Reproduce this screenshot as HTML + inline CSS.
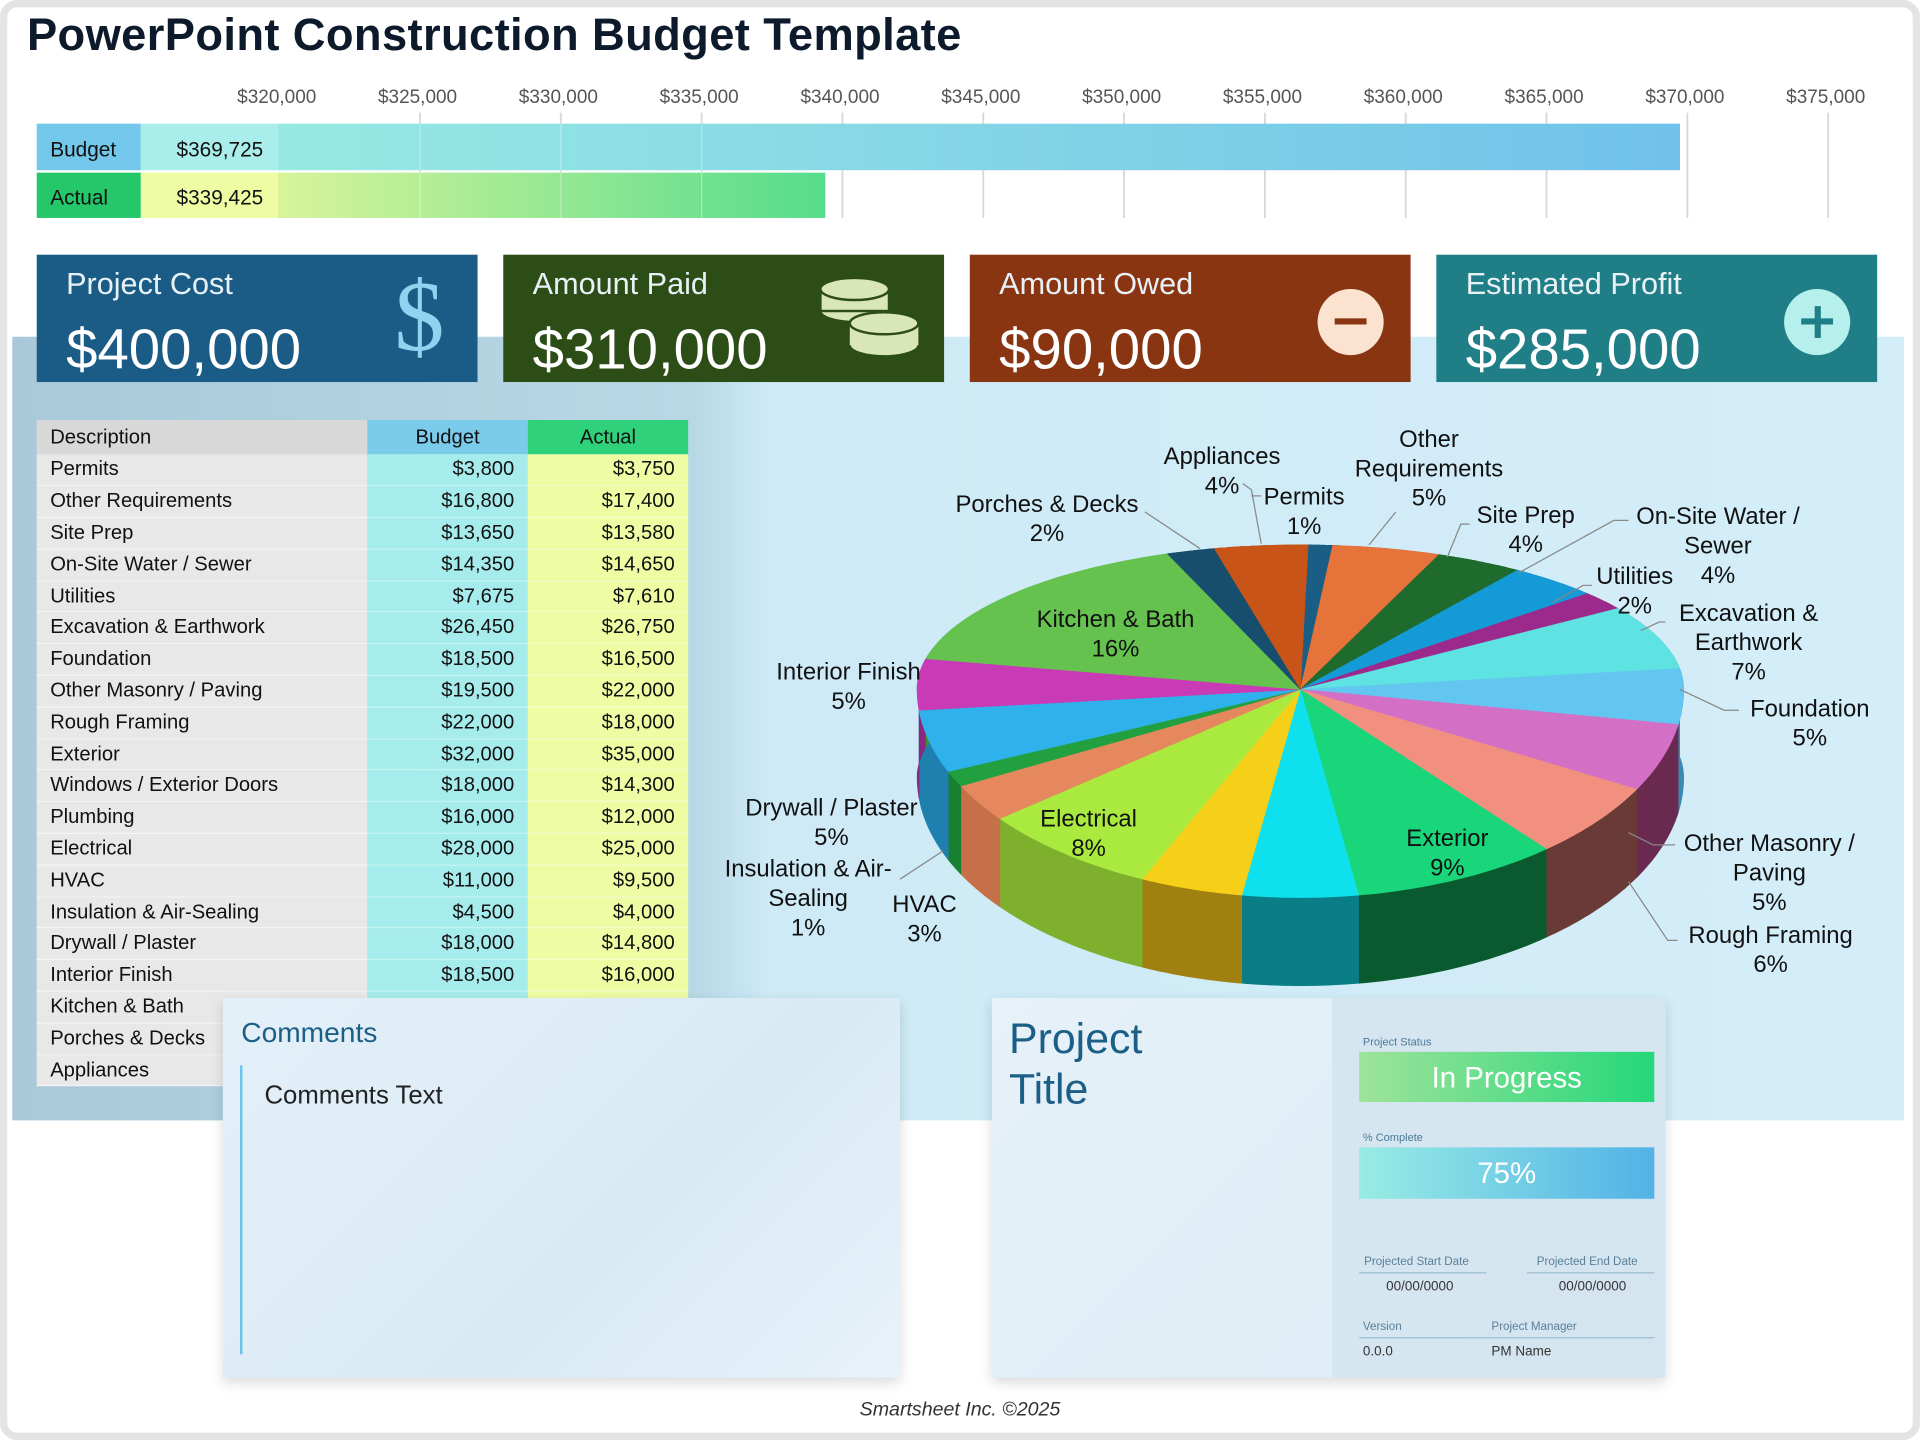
<!DOCTYPE html>
<html><head><meta charset="utf-8">
<style>
html,body{margin:0;padding:0;width:1920px;height:1440px;overflow:hidden;background:#fff;}
#w{position:absolute;left:0;top:0;width:1568px;height:1176px;transform:scale(1.22449);transform-origin:0 0;font-family:"Liberation Sans",sans-serif;}
.a{position:absolute;}
.frame{left:0;top:0;width:1556px;height:1164px;border:6px solid #e4e4e4;border-radius:14px;}
.card{position:absolute;top:208px;width:360px;height:104px;color:#fff;}
.card .t{position:absolute;left:24px;top:10px;font-size:25px;color:#e8f2f6;}
.card .v{position:absolute;left:24px;top:50px;font-size:46px;}
table{border-collapse:collapse;font-size:16.5px;color:#111;}
td{height:25.8px;padding:0 11px;box-sizing:border-box;}
</style></head><body><div id="w">
<div class="a frame"></div>
<div class="a" style="left:22px;top:8px;font-size:37px;font-weight:bold;color:#0d1a2b;letter-spacing:0.3px">PowerPoint Construction Budget Template</div>

<div class="a" style="left:10px;top:275px;width:1545px;height:640px;background:linear-gradient(90deg,#a9c9da 0%,#b8d8e6 36%,#cdeaf6 40%,#d4eef9 100%);"></div>

<svg class="a" style="left:0;top:0" width="1568" height="200">
<g font-family="Liberation Sans" font-size="15.5" fill="#555" text-anchor="middle">
<text x="226" y="84">$320,000</text><text x="341" y="84">$325,000</text><text x="456" y="84">$330,000</text><text x="571" y="84">$335,000</text><text x="686" y="84">$340,000</text><text x="801" y="84">$345,000</text><text x="916" y="84">$350,000</text><text x="1031" y="84">$355,000</text><text x="1146" y="84">$360,000</text><text x="1261" y="84">$365,000</text><text x="1376" y="84">$370,000</text><text x="1491" y="84">$375,000</text>
</g>
<defs>
<linearGradient id="gb" x1="0" x2="1"><stop offset="0" stop-color="#96e9e2"/><stop offset="1" stop-color="#70c2ea"/></linearGradient>
<linearGradient id="ga" x1="0" x2="1"><stop offset="0" stop-color="#d8f49a"/><stop offset="1" stop-color="#55dc8c"/></linearGradient>
</defs>
<g stroke="#d8d8d8" stroke-width="1.5">
<line x1="343" y1="92" x2="343" y2="178"/><line x1="458" y1="92" x2="458" y2="178"/><line x1="573" y1="92" x2="573" y2="178"/><line x1="688" y1="92" x2="688" y2="178"/><line x1="803" y1="92" x2="803" y2="178"/><line x1="918" y1="92" x2="918" y2="178"/><line x1="1033" y1="92" x2="1033" y2="178"/><line x1="1148" y1="92" x2="1148" y2="178"/><line x1="1263" y1="92" x2="1263" y2="178"/><line x1="1378" y1="92" x2="1378" y2="178"/><line x1="1493" y1="92" x2="1493" y2="178"/>
</g>
<rect x="227" y="101" width="1145" height="38" fill="url(#gb)"/>
<rect x="227" y="141" width="447" height="37" fill="url(#ga)"/>
<g stroke="#fff" stroke-opacity="0.35"><line x1="343" y1="101" x2="343" y2="178"/><line x1="458" y1="101" x2="458" y2="178"/><line x1="573" y1="101" x2="573" y2="178"/></g>
<rect x="30" y="101" width="85" height="38" fill="#72c7ea"/>
<rect x="115" y="101" width="112" height="38" fill="#a9eeea"/>
<rect x="30" y="141" width="85" height="37" fill="#25c76a"/>
<rect x="115" y="141" width="112" height="37" fill="#eefca4"/>
<g font-family="Liberation Sans" font-size="17" fill="#111">
<text x="41" y="128">Budget</text><text x="41" y="167">Actual</text>
<text x="215" y="128" text-anchor="end">$369,725</text><text x="215" y="167" text-anchor="end">$339,425</text>
</g>
</svg>

<div class="card" style="left:30px;background:#1b5c86"><div class="t">Project Cost</div><div class="v">$400,000</div>
<div class="a" style="left:292px;top:4px;font-size:82px;color:#8fd3f0;font-family:'Liberation Serif',serif">$</div></div>
<div class="card" style="left:411px;background:#2c4d16"><div class="t">Amount Paid</div><div class="v">$310,000</div>
<svg class="a" style="left:255px;top:16px" width="90" height="75"><g fill="#d9e6b8" stroke="#2c4d16" stroke-width="2">
<ellipse cx="32" cy="30" rx="28" ry="9"/><rect x="4" y="12" width="56" height="18"/><ellipse cx="32" cy="12" rx="28" ry="9"/>
<rect x="28" y="40" width="56" height="18"/><ellipse cx="56" cy="58" rx="28" ry="9"/><rect x="28" y="40" width="56" height="18" stroke="none"/><ellipse cx="56" cy="40" rx="28" ry="9"/></g></svg></div>
<div class="card" style="left:792px;background:#8a3512"><div class="t">Amount Owed</div><div class="v">$90,000</div>
<div class="a" style="left:284px;top:28px;width:54px;height:54px;border-radius:50%;background:#fbe3d0"><div class="a" style="left:14px;top:24px;width:26px;height:5px;background:#8a3512"></div></div></div>
<div class="card" style="left:1173px;background:#1f7e86"><div class="t">Estimated Profit</div><div class="v">$285,000</div>
<div class="a" style="left:284px;top:28px;width:54px;height:54px;border-radius:50%;background:#b6f0ec"><div class="a" style="left:14px;top:24px;width:26px;height:5px;background:#1f7e86"></div><div class="a" style="left:24.5px;top:14px;width:5px;height:26px;background:#1f7e86"></div></div></div>

<table class="a" style="left:30px;top:343px;">
<tr style="height:28px"><td style="width:270px;background:#d8d8d8">Description</td><td style="width:131px;background:#7bcbeb;text-align:center">Budget</td><td style="width:131px;background:#2fd27a;text-align:center">Actual</td></tr>
</table>
<div class="a" style="left:30px;top:371px;">
<table id="tb"></table></div>

<svg id="pie" class="a" style="left:0;top:0" width="1568" height="1176"></svg>

<div class="a" style="left:182px;top:815px;width:553px;height:310px;background:linear-gradient(135deg,#e4f0f8,#d9eaf5 60%,#e8f2f9);box-shadow:0 4px 10px rgba(0,0,0,0.15)"></div>
<div class="a" style="left:197px;top:830px;font-size:23px;color:#1b5e86">Comments</div>
<div class="a" style="left:196px;top:870px;width:2px;height:236px;background:#6cc2e8"></div>
<div class="a" style="left:216px;top:883px;font-size:21px;color:#222">Comments Text</div>

<div class="a" style="left:810px;top:815px;width:550px;height:310px;background:linear-gradient(135deg,#e6f1f8,#dcebf5);box-shadow:0 4px 10px rgba(0,0,0,0.15)"></div>
<div class="a" style="left:1088px;top:815px;width:272px;height:310px;background:#d2e4ef;opacity:0.8"></div>
<div class="a" style="left:824px;top:828px;font-size:35px;line-height:41px;color:#1b5e86">Project<br>Title</div>
<div class="a" style="left:1113px;top:846px;font-size:9px;color:#4a7a99">Project Status</div>
<div class="a" style="left:1110px;top:859px;width:241px;height:41px;background:linear-gradient(90deg,#9ee39a,#25d77a);color:#fff;font-size:24px;text-align:center;line-height:43px">In Progress</div>
<div class="a" style="left:1113px;top:924px;font-size:9px;color:#4a7a99">% Complete</div>
<div class="a" style="left:1110px;top:937px;width:241px;height:42px;background:linear-gradient(90deg,#98ece4,#52b2e6);color:#fff;font-size:24px;text-align:center;line-height:44px">75%</div>
<div class="a" style="left:1114px;top:1025px;font-size:9.5px;color:#5a7f99">Projected Start Date</div>
<div class="a" style="left:1255px;top:1025px;font-size:9.5px;color:#5a7f99">Projected End Date</div>
<div class="a" style="left:1110px;top:1039px;width:104px;height:1px;background:#9bbbd0"></div>
<div class="a" style="left:1247px;top:1039px;width:104px;height:1px;background:#9bbbd0"></div>
<div class="a" style="left:1132px;top:1045px;font-size:11px;color:#333">00/00/0000</div>
<div class="a" style="left:1273px;top:1045px;font-size:11px;color:#333">00/00/0000</div>
<div class="a" style="left:1113px;top:1078px;font-size:9.5px;color:#5a7f99">Version</div>
<div class="a" style="left:1218px;top:1078px;font-size:9.5px;color:#5a7f99">Project Manager</div>
<div class="a" style="left:1110px;top:1092px;width:241px;height:1px;background:#9bbbd0"></div>
<div class="a" style="left:1113px;top:1098px;font-size:11px;color:#333">0.0.0</div>
<div class="a" style="left:1218px;top:1098px;font-size:11px;color:#333">PM Name</div>

<div class="a" style="left:0;width:1568px;top:1143px;text-align:center;font-size:16px;font-style:italic;color:#333">Smartsheet Inc. ©2025</div>
</div>
<script>
(function(){
var rows=[["Permits","$3,800","$3,750"],["Other Requirements","$16,800","$17,400"],["Site Prep","$13,650","$13,580"],["On-Site Water / Sewer","$14,350","$14,650"],["Utilities","$7,675","$7,610"],["Excavation & Earthwork","$26,450","$26,750"],["Foundation","$18,500","$16,500"],["Other Masonry / Paving","$19,500","$22,000"],["Rough Framing","$22,000","$18,000"],["Exterior","$32,000","$35,000"],["Windows / Exterior Doors","$18,000","$14,300"],["Plumbing","$16,000","$12,000"],["Electrical","$28,000","$25,000"],["HVAC","$11,000","$9,500"],["Insulation & Air-Sealing","$4,500","$4,000"],["Drywall / Plaster","$18,000","$14,800"],["Interior Finish","$18,500","$16,000"],["Kitchen & Bath","",""],["Porches & Decks","",""],["Appliances","",""]];
var h="";rows.forEach(function(r,i){h+='<tr><td style="width:270px;background:#e8e8e8;border-bottom:1px solid #f4f4f4">'+r[0].replace("&","&amp;")+'</td><td style="width:131px;background:#a7ecec;text-align:right;border-bottom:1px solid #c4f4f2">'+r[1]+'</td><td style="width:131px;background:#eefca3;text-align:right;border-bottom:1px solid #f6fdc8">'+r[2]+'</td></tr>';});
document.getElementById("tb").innerHTML=h;
var vals=[3800,16800,13650,14350,7675,26450,18500,19500,22000,32000,18000,16000,28000,11000,4500,18000,18500,59000,7500,14500];
var cols=["#1a5e86","#e5733a","#1f6b2e","#159ad8","#9c2a8c","#5ee2e2","#62c6f0","#d46fc6","#f29080","#1ad67a","#0fe0ee","#f6d018","#aaea3e","#e6885e","#22a040","#2fb2ec","#c93ab6","#66c24e","#174e6e","#c85418"];
var side=["#10405e","#a04e22","#123f1b","#0e6a98","#6a1c60","#2e9a9a","#3a8ab0","#6a2a50","#6a3a36","#0a5a30","#0a7e86","#a08010","#7eb02e","#c6704a","#188030","#1f80b0","#8a2880","#449030","#102e44","#904010"];
var tot=vals.reduce(function(a,b){return a+b},0);
var cx=1062,cy=563,rx=313,D=72;
function pt(t){var c=Math.cos(t),s=Math.sin(t);var ry=c>0?118:170;return [cx+rx*s,cy-ry*c];}
var sides="",faces="";var a0=0.02;
vals.forEach(function(v,i){var a1=a0+v/tot*2*Math.PI;var n=24,arc=[];for(var k=0;k<=n;k++){arc.push(pt(a0+(a1-a0)*k/n));}
var p="M"+cx+","+cy;arc.forEach(function(q){p+=" L"+q[0].toFixed(1)+","+q[1].toFixed(1);});faces+='<path d="'+p+' Z" fill="'+cols[i]+'" stroke="'+cols[i]+'" stroke-width="0.5"/>';
var s="M"+arc[0][0].toFixed(1)+","+arc[0][1].toFixed(1);arc.forEach(function(q){s+=" L"+q[0].toFixed(1)+","+q[1].toFixed(1);});for(var k=n;k>=0;k--){s+=" L"+arc[k][0].toFixed(1)+","+(arc[k][1]+D).toFixed(1);}
sides+='<path d="'+s+' Z" fill="'+side[i]+'" stroke="'+side[i]+'" stroke-width="0.5"/>';a0=a1;});
var L=[[["Appliances","4%"],998,372],[["Other","Requirements","5%"],1167,358],[["Permits","1%"],1065,405],[["Porches & Decks","2%"],855,411],[["Site Prep","4%"],1246,420],[["On-Site Water /","Sewer","4%"],1403,421],[["Utilities","2%"],1335,470],[["Excavation &","Earthwork","7%"],1428,500],[["Kitchen & Bath","16%"],911,505],[["Interior Finish","5%"],693,548],[["Foundation","5%"],1478,578],[["Drywall / Plaster","5%"],679,659],[["Electrical","8%"],889,668],[["Exterior","9%"],1182,684],[["Other Masonry /","Paving","5%"],1445,688],[["Insulation & Air-","Sealing","1%"],660,709],[["HVAC","3%"],755,738],[["Rough Framing","6%"],1446,763]];
var t='<g font-family="Liberation Sans" font-size="19.5" fill="#111" text-anchor="middle">';
L.forEach(function(l){l[0].forEach(function(s,j){t+='<text x="'+l[1]+'" y="'+(l[2]+7+j*24)+'">'+s.replace("&","&amp;")+'</text>';});});t+='</g>';
var ln='<g stroke="#888" stroke-width="1" fill="none"><polyline points="935,418 980,448"/><polyline points="1015,395 1022,400 1030,444"/><polyline points="1030,405 1022,405"/><polyline points="1140,418 1118,445"/><polyline points="1200,428 1193,428 1182,455"/><polyline points="1330,425 1318,425 1240,468"/><polyline points="1300,478 1293,478 1268,492"/><polyline points="1360,508 1355,508 1340,515"/><polyline points="1420,580 1408,580 1372,563"/><polyline points="1368,690 1350,690 1330,680"/><polyline points="1370,768 1362,768 1330,720"/><polyline points="735,718 770,695"/></g>';
document.getElementById("pie").innerHTML=sides+faces+ln+t;
})();
</script>
</body></html>
